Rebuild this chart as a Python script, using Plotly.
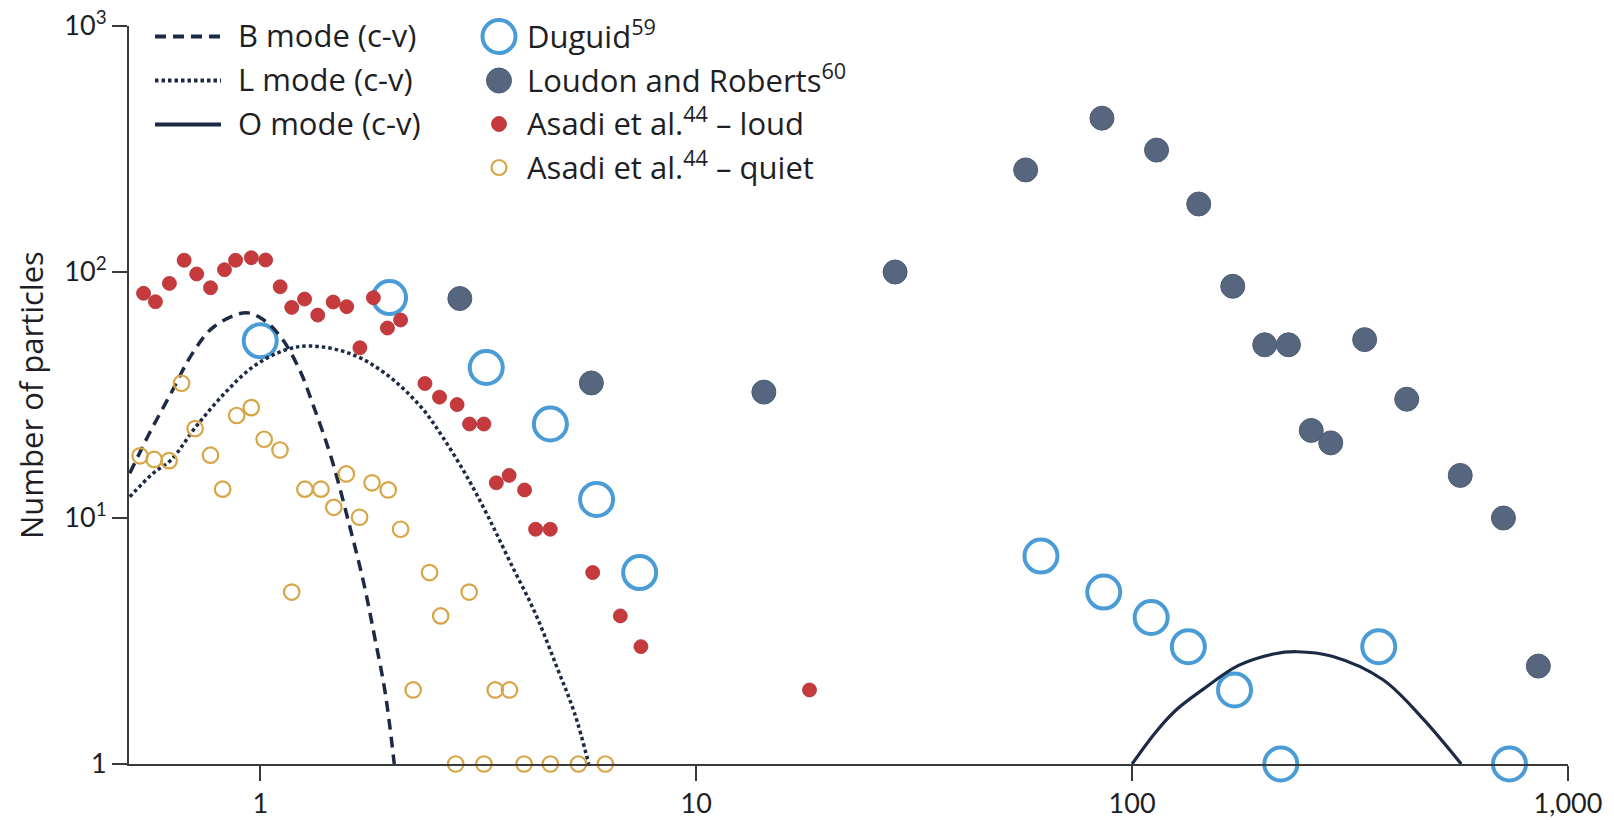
import plotly.graph_objects as go

# ---- data -------------------------------------------------------------
# Duguid (open blue circles)
duguid_x = [0.492, 1.0, 1.98, 3.30, 4.63, 5.91, 7.42, 61.8, 86.1, 110.6, 134.6, 171.8, 219.4, 368, 734]
duguid_y = [14.0, 52.5, 78.7, 40.9, 24.1, 11.9, 6.0, 7.0, 5.0, 3.94, 3.0, 2.0, 1.0, 3.0, 1.0]

# Loudon and Roberts (filled slate circles)
loudon_x = [2.87, 5.75, 14.3, 28.6, 57.0, 85.3, 113.8, 142.2, 170.2, 201.5, 228.4, 257.6, 285.6, 341.6, 426.6, 566, 711, 855]
loudon_y = [78, 35.4, 32.5, 100, 260, 422, 313, 189, 87.5, 50.6, 50.6, 22.7, 20.2, 53.1, 30.4, 14.9, 10.0, 2.5]

# Asadi et al. - loud (small filled red)
loud_x = [0.540, 0.575, 0.619, 0.669, 0.715, 0.769, 0.828, 0.878, 0.954, 1.029,
          1.111, 1.181, 1.264, 1.355, 1.47, 1.579, 1.693, 1.818, 1.958, 2.099,
          2.387, 2.578, 2.829, 3.021, 3.259, 3.48, 3.724, 4.04, 4.283, 4.627,
          5.79, 6.70, 7.47, 18.2]
loud_y = [81.9, 75.7, 89.9, 111.6, 98.2, 86.3, 102.2, 111.6, 114.3, 111.9,
          87.1, 71.8, 77.6, 66.8, 75.5, 72.3, 49.2, 78.6, 59.2, 63.8,
          35.2, 31.0, 28.9, 24.1, 24.1, 13.9, 14.9, 13.0, 9.0, 9.0,
          6.0, 4.0, 3.0, 2.0]

# Asadi et al. - quiet (small open gold)
quiet_x = [0.530, 0.571, 0.618, 0.660, 0.709, 0.769, 0.820, 0.883, 0.954, 1.021,
           1.110, 1.266, 1.378, 1.475, 1.576, 1.69, 1.805, 1.966, 2.099,
           1.181, 2.243, 2.446, 2.594, 3.015, 3.46, 3.73,
           2.808, 3.26, 4.03, 4.63, 5.37, 6.19]
quiet_y = [17.9, 17.3, 17.1, 35.3, 23.1, 18.0, 13.1, 26.1, 28.1, 20.9,
           18.9, 13.1, 13.1, 11.05, 15.1, 10.07, 13.9, 13.0, 9.0,
           5.0, 2.0, 6.0, 4.0, 5.0, 2.0, 2.0,
           1, 1, 1, 1, 1, 1]

# Model curves (c-v)
b_mode_x = [0.502, 0.557, 0.624, 0.699, 0.783, 0.927, 1.019, 1.12, 1.231, 1.327,
            1.458, 1.603, 1.729, 1.829, 1.935, 2.03]
b_mode_y = [15.2, 22.1, 32.1, 46.7, 59.9, 68.3, 63.8, 53.8, 40.0, 28.3,
            17.4, 9.3, 5.4, 3.3, 1.95, 1.0]

l_mode_x = [0.502, 0.568, 0.624, 0.712, 0.828, 0.963, 1.141, 1.302, 1.603, 1.935,
            2.337, 2.618, 2.988, 3.345, 3.746, 4.275, 4.786, 5.26, 5.67]
l_mode_y = [12.2, 15.2, 17.2, 23.5, 32.1, 41.2, 48.2, 50.0, 46.7, 38.7,
            28.3, 21.4, 14.6, 10.0, 6.6, 4.1, 2.49, 1.61, 1.0]

o_mode_x = [100, 113.4, 125.8, 145.4, 175.1, 211, 238.8, 287.6, 376.3, 462.8, 569]
o_mode_y = [1.0, 1.35, 1.65, 2.01, 2.51, 2.80, 2.86, 2.74, 2.20, 1.54, 1.0]

# Axis ticks
x_tickvals = [1, 10, 100, 1000]
x_ticktext = ["1", "10", "100", "1,000"]
y_tickvals = [1, 10, 100, 1000]
y_ticktext = ["1", "10<sup>1</sup>", "10<sup>2</sup>", "10<sup>3</sup>"]

# ---- style --------------------------------------------------------------
BLUE = "#4a9cd6"
SLATE = "#57667f"
RED = "#c53a3d"
GOLD = "#d7a545"
NAVY = "#1c2a45"
AXIS = "#3a3a3a"
TEXT = "#1e1e24"
FONT = "Open Sans"
TICK_FONT = "Lato"

W, H = 1614, 820
ML, MR, MT, MB = 129, 46, 26, 56
PW, PH = W - ML - MR, H - MT - MB


def px(xpix):
    return (xpix - ML) / PW


def py(ypix):
    return (H - MB - ypix) / PH


fig = go.Figure()

fig.add_trace(go.Scatter(
    x=duguid_x, y=duguid_y, mode="markers", cliponaxis=False,
    marker=dict(symbol="circle-open", size=33, color=BLUE, line=dict(width=4, color=BLUE)),
))
fig.add_trace(go.Scatter(
    x=loudon_x, y=loudon_y, mode="markers", cliponaxis=False,
    marker=dict(symbol="circle", size=24, color=SLATE, line=dict(width=1, color="#4c5a73")),
))
fig.add_trace(go.Scatter(
    x=b_mode_x, y=b_mode_y, mode="lines", line_shape="spline", cliponaxis=False,
    line=dict(color=NAVY, width=3.5, dash="11px,7px"),
))
fig.add_trace(go.Scatter(
    x=l_mode_x, y=l_mode_y, mode="lines", line_shape="spline", cliponaxis=False,
    line=dict(color=NAVY, width=3.5, dash="3.5px,3px"),
))
fig.add_trace(go.Scatter(
    x=o_mode_x, y=o_mode_y, mode="lines", line_shape="spline", cliponaxis=False,
    line=dict(color=NAVY, width=3.2),
))
fig.add_trace(go.Scatter(
    x=loud_x, y=loud_y, mode="markers", cliponaxis=False,
    marker=dict(symbol="circle", size=14, color=RED, line=dict(width=0.8, color="#b23034")),
))
fig.add_trace(go.Scatter(
    x=quiet_x, y=quiet_y, mode="markers", cliponaxis=False,
    marker=dict(symbol="circle-open", size=15.5, color=GOLD, line=dict(width=2.2, color=GOLD)),
))

# ---- legend, drawn as shapes + text ------------------------------------------
shapes = []
annotations = []
leg_font = dict(family=FONT, size=31, color=TEXT)

line_rows = [
    ("B mode (c-v)", "11px,7px", 36.5),
    ("L mode (c-v)", "3.5px,3px", 80.5),
    ("O mode (c-v)", "solid", 124.5),
]
for label, dash, yy in line_rows:
    shapes.append(dict(type="line", xref="paper", yref="paper",
                       x0=px(155), x1=px(221), y0=py(yy), y1=py(yy),
                       line=dict(color=NAVY, width=4, dash=dash)))
    annotations.append(dict(text=label, xref="paper", yref="paper", x=px(236), y=py(yy),
                            yshift=2, xanchor="left", yanchor="middle", align="left",
                            showarrow=False, font=leg_font))

marker_rows = [
    ("Duguid<sup>59</sup>", 36.5, 16.5, "white", BLUE, 4),
    ("Loudon and Roberts<sup>60</sup>", 80.5, 12.5, SLATE, "#4c5a73", 1),
    ("Asadi et al.<sup>44</sup> \u2013 loud", 124, 7.5, RED, "#b23034", 0.8),
    ("Asadi et al.<sup>44</sup> \u2013 quiet", 167.5, 7.5, "rgba(0,0,0,0)", GOLD, 2.2),
]
for label, yy, r, fill, edge, lw in marker_rows:
    shapes.append(dict(type="circle", xref="paper", yref="paper",
                       xsizemode="pixel", ysizemode="pixel",
                       xanchor=px(499), yanchor=py(yy),
                       x0=-r, x1=r, y0=-r, y1=r,
                       fillcolor=fill, line=dict(color=edge, width=lw)))
    annotations.append(dict(text=label, xref="paper", yref="paper", x=px(525), y=py(yy),
                            yshift=2, xanchor="left", yanchor="middle", align="left",
                            showarrow=False, font=leg_font))

# y-axis title
annotations.append(dict(text="Number of particles", xref="paper", yref="paper",
                        x=0, y=0.5, xshift=31 - ML, textangle=-90,
                        xanchor="center", yanchor="middle", showarrow=False,
                        font=dict(family=FONT, size=31, color=TEXT)))

axis_common = dict(
    type="log", showgrid=False, zeroline=False, showline=True, automargin=False,
    linecolor=AXIS, linewidth=2, ticks="outside", ticklen=15, tickwidth=2,
    tickcolor=AXIS, tickfont=dict(family=TICK_FONT, size=27, color=TEXT),
)

fig.update_layout(
    width=W, height=H, autosize=False,
    margin=dict(l=ML, r=MR, t=MT, b=MB),
    paper_bgcolor="white", plot_bgcolor="white",
    showlegend=False,
    xaxis=dict(range=[-0.30103, 3], tickvals=x_tickvals, ticktext=x_ticktext, **axis_common),
    yaxis=dict(range=[0, 3], tickvals=y_tickvals, ticktext=y_ticktext, **axis_common),
    shapes=shapes,
    annotations=annotations,
)

fig.write_html("out.html")
